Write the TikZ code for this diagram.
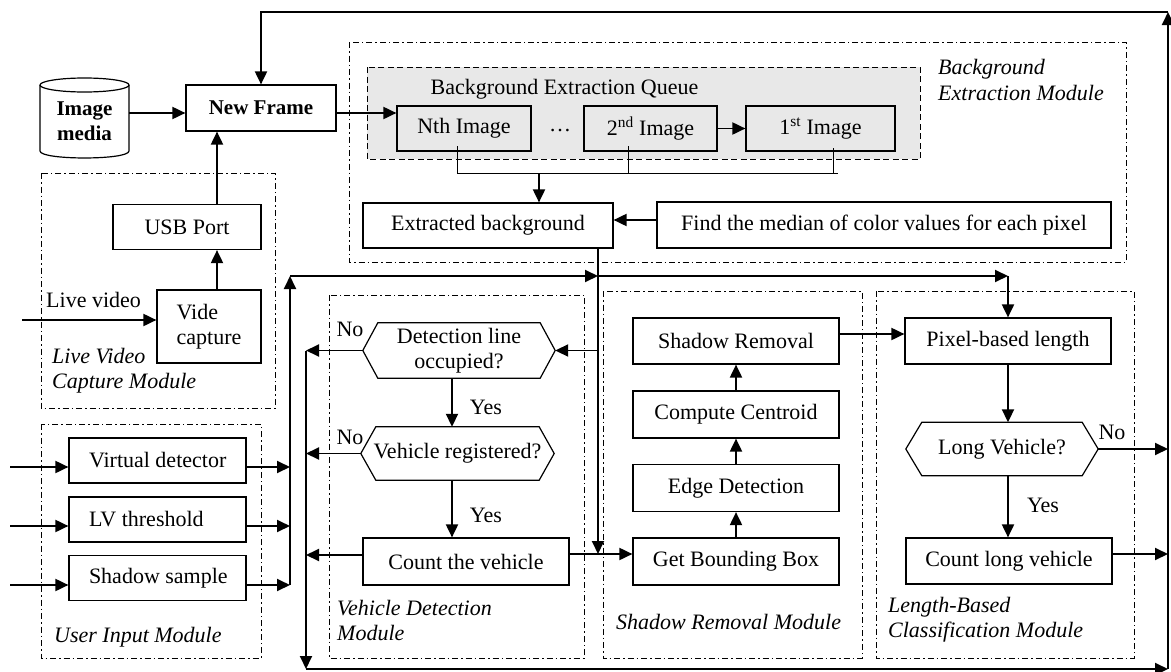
\documentclass[tikz,border=0pt]{standalone}
\usepackage{fontspec}
\setmainfont{Liberation Serif}
\usetikzlibrary{arrows.meta,calc}
\definecolor{queuefill}{RGB}{232,232,232}
\newcommand\hexbox[2]{\draw[line width=1.2pt] (#1.west) -- ([xshift=#2]#1.north west) -- ([xshift=-#2]#1.north east) -- (#1.east) -- ([xshift=-#2]#1.south east) -- ([xshift=#2]#1.south west) -- cycle;}
\newcommand\lefttext[1]{\makebox[137pt][l]{#1}}
\begin{document}
\begin{tikzpicture}[x=1pt,y=-1pt,
  font=\fontsize{22}{25.5}\selectfont,
  box/.style={draw, line width=1.2pt, inner sep=0pt, minimum height=46pt, align=center},
  inbox/.style={draw, line width=1.2pt, inner sep=0pt, minimum width=177pt, minimum height=45pt},
  hexnode/.style={inner sep=0pt, align=center},
  lbl/.style={inner sep=0pt, align=left, anchor=west, font=\fontsize{22}{25.5}\selectfont\itshape},
  plain/.style={inner sep=0pt},
  modbox/.style={line width=0.9pt, dash pattern=on 6pt off 3pt on 1.5pt off 3pt},
  arr/.style={line width=1.9pt, -{Triangle[length=13pt,width=12pt]}},
  thinline/.style={line width=0.8pt},
]
\useasboundingbox (0,0) rectangle (1171,672);

% module frames
\draw[modbox] (41,173) rectangle (275,408);
\draw[modbox] (41,424) rectangle (261,658);
\draw[modbox] (349,42) rectangle (1126,262);
\draw[modbox] (329,295) rectangle (584,658);
\draw[modbox] (603,291) rectangle (862,658);
\draw[modbox] (876,291) rectangle (1134,658);
\draw[line width=0.9pt, dash pattern=on 6pt off 3.5pt, fill=queuefill] (367,67) rectangle (920,159);

% helper coordinates
\coordinate (rowA) at (0,113);
\coordinate (r220) at (0,220);
\coordinate (r334) at (0,334);
\coordinate (r554) at (0,554);
\coordinate (r555) at (0,555);
\coordinate (in1) at (10,467);
\coordinate (in2) at (10,526);
\coordinate (in3) at (10,585);
\coordinate (lvsrc) at (22,320);
\coordinate (c217) at (217,0);
\coordinate (ibus) at (290,276);
\coordinate (ibusb) at (290,585);
\coordinate (exbx) at (598,276);
\coordinate (cx) at (452,0);
\coordinate (lbt) at (306,349);
\coordinate (lbb) at (306,669);
\coordinate (rtop) at (1168,12);
\coordinate (rbot) at (1168,669);
\coordinate (qj) at (539,173);
\coordinate (t1) at (457,146);
\coordinate (t2) at (628,146);
\coordinate (t3) at (833,148);

% image media cylinder
\node[plain, minimum width=89pt, minimum height=78pt, align=center, font=\fontsize{21}{25.5}\selectfont\bfseries] (media) at (84.5,121) {Image\\media};
\draw[line width=1.2pt] (40,85) -- (40,151) .. controls (40,160.3) and (129,160.3) .. (129,151) -- (129,85);
\draw[line width=1.2pt] (84.5,85) ellipse [x radius=44.5pt, y radius=7pt];

% left column
\node[box, minimum width=150pt, font=\fontsize{21}{25.5}\selectfont\bfseries] (newframe) at (261,108) {New Frame};
\node[box, minimum width=148pt, minimum height=45pt] (usb) at (187,227) {USB Port};
\node[box, minimum width=104pt, minimum height=73pt, align=left] (vide) at (209,326.5) {Vide\\capture};
\node[plain, anchor=west] (livevid) at (46,300) {Live video};
\node[lbl] (lvcmlbl) at (52,370.5) {Live Video\\Capture Module};

\node[inbox] (vdet) at (157.5,460.5) {\lefttext{Virtual detector}};
\node[inbox] (lvt) at (157.5,519.5) {\lefttext{LV threshold}};
\node[inbox] (ss) at (157.5,578) {\lefttext{Shadow sample}};
\node[lbl] (uimlbl) at (54,637) {User Input Module};

% background extraction
\node[plain] (qtitle) at (564.5,89) {Background Extraction Queue};
\node[box, minimum width=134pt, minimum height=45pt] (nth) at (464,128.5) {Nth Image};
\node[plain] (dots) at (560,131) {\dots};
\node[box, minimum width=133pt, minimum height=45pt] (second) at (650.5,128.5) {2\textsuperscript{nd} Image};
\node[box, minimum width=149pt, minimum height=45pt] (first) at (820.5,128.5) {1\textsuperscript{st} Image};
\node[box, minimum width=250pt, minimum height=45pt] (exb) at (488,225.5) {Extracted background};
\node[box, minimum width=454pt] (find) at (884,225) {Find the median of color values for each pixel};
\node[lbl] (bemlbl) at (938,80) {Background\\Extraction Module};

% vehicle detection
\node[hexnode, minimum width=192pt, minimum height=55pt] (det) at (459,350.5) {Detection line\\occupied?};
\hexbox{det}{15pt}
\node[hexnode, minimum width=193pt, minimum height=53pt] (vr) at (457.5,453.5) {Vehicle registered?};
\hexbox{vr}{15pt}
\node[box, minimum width=206pt, minimum height=47pt] (count) at (466,561.5) {Count the vehicle};
\node[plain] (yes1) at (486,407) {Yes};
\node[plain] (yes2) at (486,515) {Yes};
\node[plain] (no1) at (350,329) {No};
\node[plain] (no2) at (350,437) {No};
\node[lbl] (vdmlbl) at (337,620.5) {Vehicle Detection\\Module};

% shadow removal
\node[box, minimum width=206pt] (sr) at (736,341) {Shadow Removal};
\node[box, minimum width=206pt, minimum height=47pt] (cc) at (736,414.5) {Compute Centroid};
\node[box, minimum width=206pt, minimum height=47pt] (ed) at (736,488) {Edge Detection};
\node[box, minimum width=206pt, minimum height=47pt] (gbb) at (736,561.5) {Get Bounding Box};
\node[lbl] (srmlbl) at (616,622) {Shadow Removal Module};

% length based classification
\node[box, minimum width=206pt] (pbl) at (1008,341) {Pixel-based length};
\node[hexnode, minimum width=192pt, minimum height=53pt] (lv) at (1002,449) {Long Vehicle?};
\hexbox{lv}{16pt}
\node[box, minimum width=206pt] (clv) at (1009,561) {Count long vehicle};
\node[plain] (no3) at (1112,432) {No};
\node[plain] (yes3) at (1043,505) {Yes};
\node[lbl] (lbcmlbl) at (888,619.5) {Length-Based\\Classification Module};

% connectors: left column
\draw[arr] (media.east |- rowA) -- (newframe.west |- rowA);
\draw[arr] (newframe.east |- rowA) -- (nth.west |- rowA);
\draw[arr] (usb.north -| c217) -- (newframe.south -| c217);
\draw[arr] (vide.north -| c217) -- (usb.south -| c217);
\draw[arr] (lvsrc) -- (vide.west |- lvsrc);

% inputs
\draw[arr] (in1) -- (vdet.west |- in1);
\draw[arr] (in2) -- (lvt.west |- in2);
\draw[arr] (in3) -- (ss.west |- in3);
\draw[arr] (vdet.east |- in1) -- (ibus |- in1);
\draw[arr] (lvt.east |- in2) -- (ibus |- in2);
\draw[arr] (ss.east |- in3) -- (ibus |- in3);
\draw[arr] (ibusb) -- (ibus);
\draw[arr] (ibus) -- (exbx);
\draw[arr] (exbx) -- (pbl.north |- exbx);
\draw[arr] (pbl.north |- exbx) -- (pbl.north);

% queue
\draw[arr] (second.east) -- (first.west);
\draw[thinline] (t1) -- (t1 |- qj) -- ([xshift=5pt]t3 |- qj);
\draw[thinline] (t2) -- (t2 |- qj);
\draw[thinline] (t3) -- (t3 |- qj);
\draw[arr] (qj) -- (qj |- exb.north);
\draw[arr] (find.west |- r220) -- (exb.east |- r220);
\draw[arr] (exbx |- exb.south) -- (exbx |- r554);
\draw[arr] (exbx |- det.east) -- (det.east);

% vehicle detection
\draw[arr] (cx |- det.south) -- (cx |- vr.north);
\draw[arr] (cx |- vr.south) -- (cx |- count.north);
\draw[arr] (det.west) -- (lbt |- det.west);
\draw[arr] (vr.west) -- (lbt |- vr.west);
\draw[arr] (count.west |- r555) -- (lbt |- r555);
\draw[arr] (lbt |- det.west) -- (lbb);
\draw[arr] (count.east |- r554) -- (gbb.west |- r554);

% shadow removal
\draw[arr] (gbb.north) -- (ed.south);
\draw[arr] (ed.north) -- (cc.south);
\draw[arr] (cc.north) -- (sr.south);
\draw[arr] (sr.east |- r334) -- (pbl.west |- r334);

% length based
\draw[arr] (pbl.south) -- (pbl.south |- lv.north);
\draw[arr] (pbl.south |- lv.south) -- (pbl.south |- clv.north);
\draw[arr] (lv.east) -- (rtop |- lv.east);
\draw[arr] (clv.east |- r554) -- (rtop |- r554);

% feedback loop
\draw[arr] (lbb) -- (rbot);
\draw[arr] (rbot) -- (rtop);
\draw[arr] (rtop) -- (newframe.north |- rtop) -- (newframe.north);
\end{tikzpicture}
\end{document}
